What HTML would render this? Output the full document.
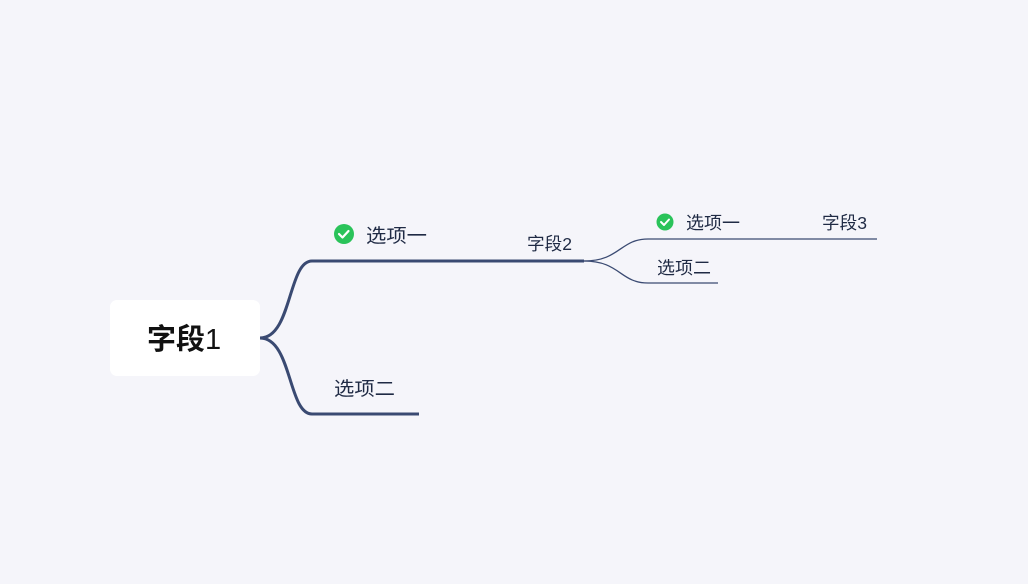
<!DOCTYPE html>
<html><head><meta charset="utf-8"><style>
html,body{margin:0;padding:0;background:#f5f5fa;}
svg{display:block}
text{font-family:"Liberation Sans","Noto Sans CJK SC",sans-serif;fill:#1f2a44;}
</style></head><body>
<svg width="1028" height="584" viewBox="0 0 1028 584" xmlns="http://www.w3.org/2000/svg">
<rect width="1028" height="584" fill="#f5f5fa"/>
<rect x="110" y="300" width="150" height="76" rx="7" fill="#ffffff"/>
<text x="147" y="349" font-size="29" style="fill:#111"><tspan font-weight="bold">字段</tspan><tspan>1</tspan></text>
<g fill="none" stroke="#3a4a72" stroke-width="3">
<path d="M260 338 C292 338 288 261 312 261 L584 261"/>
<path d="M260 338 C292 338 288 414 312 414 L419 414"/>
</g>
<g fill="none" stroke="#3a4a72" stroke-width="1.3">
<path d="M584 261 C620 261 620 239 648 239 L877 239"/>
<path d="M584 261 C620 261 620 283 648 283 L718 283"/>
</g>
<circle cx="344" cy="234" r="10" fill="#2ac35a"/>
<path d="M339 234 l3.5 3.5 l6 -6.5" stroke="#fff" stroke-width="2.2" fill="none" stroke-linecap="round" stroke-linejoin="round"/>
<text x="366" y="242" font-size="19" textLength="61" lengthAdjust="spacingAndGlyphs">选项一</text>
<text x="527" y="250" font-size="17.5" textLength="45" lengthAdjust="spacingAndGlyphs">字段2</text>
<text x="334" y="395" font-size="19" textLength="61" lengthAdjust="spacingAndGlyphs">选项二</text>
<circle cx="665" cy="222" r="8.5" fill="#2ac35a"/>
<path d="M661 222 l3 3 l5 -5.5" stroke="#fff" stroke-width="2" fill="none" stroke-linecap="round" stroke-linejoin="round"/>
<text x="686" y="229" font-size="17.5" textLength="54" lengthAdjust="spacingAndGlyphs">选项一</text>
<text x="822" y="229" font-size="17.5" textLength="45" lengthAdjust="spacingAndGlyphs">字段3</text>
<text x="657" y="274" font-size="17.5" textLength="54" lengthAdjust="spacingAndGlyphs">选项二</text>
</svg>
</body></html>
